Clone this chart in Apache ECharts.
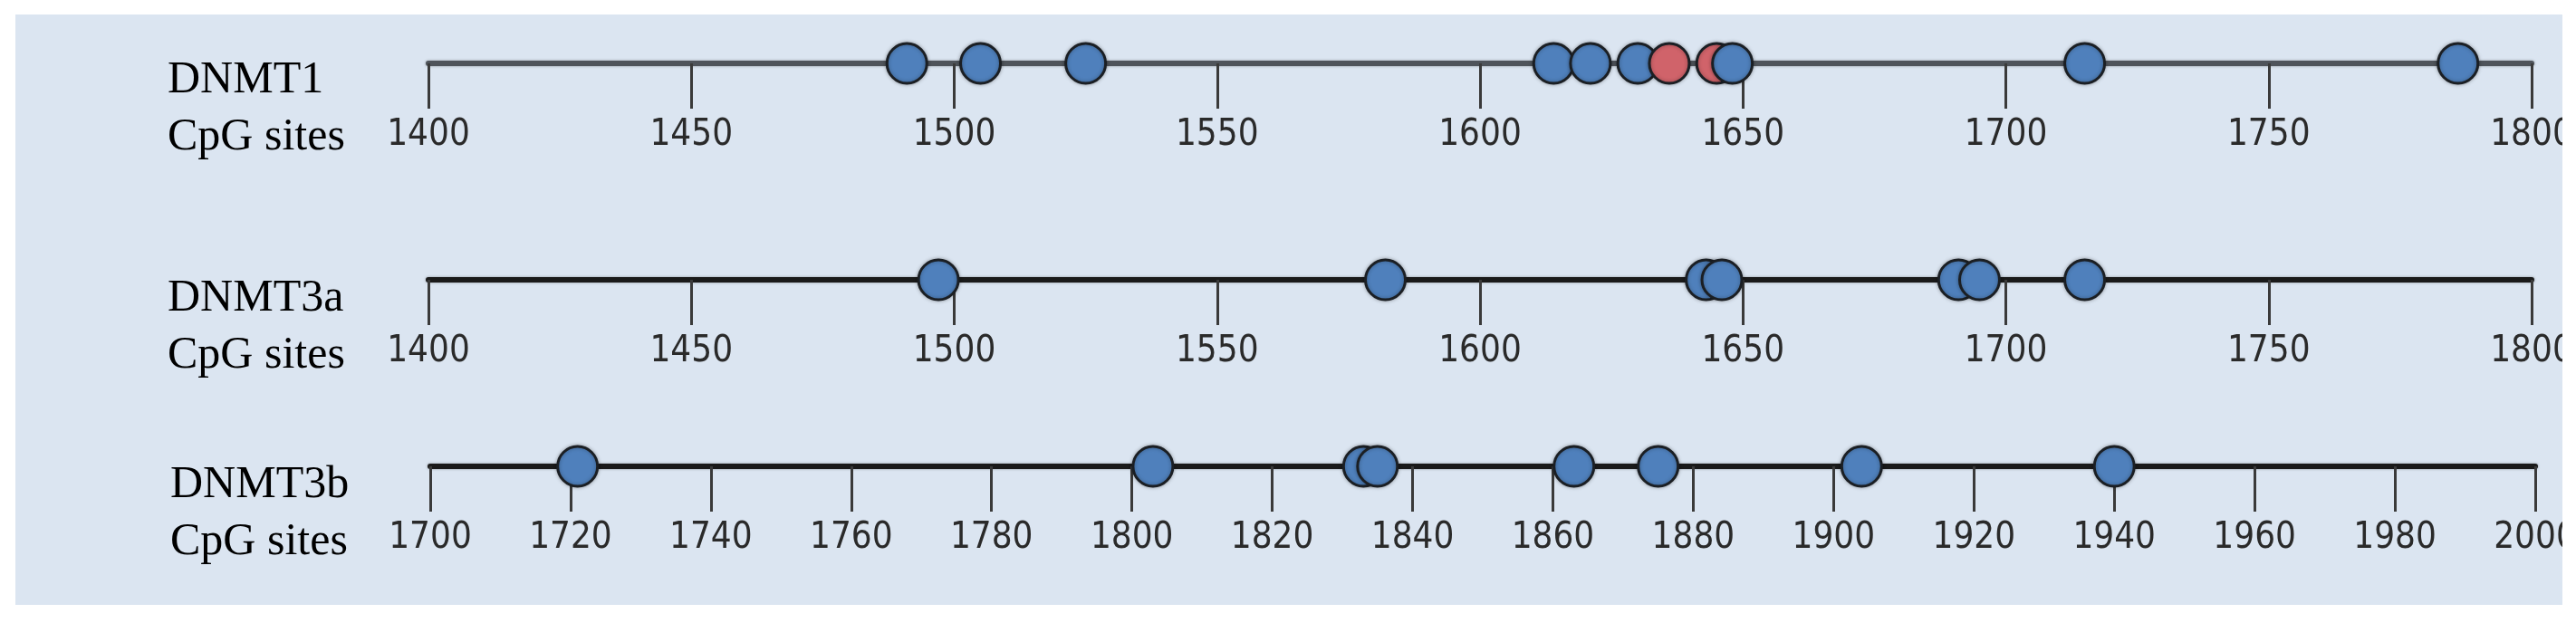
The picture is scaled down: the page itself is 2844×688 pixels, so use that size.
<!DOCTYPE html>
<html>
<head>
<meta charset="utf-8">
<script src="https://cdn.jsdelivr.net/npm/echarts/dist/echarts.min.js"></script>
<style>
  html, body { margin: 0; padding: 0; background: #fff; width: 2844px; height: 688px; overflow: hidden; }
  #mychart { position: absolute; left: 17px; top: 16px; width: 2812px; height: 652px; background: #dbe5f1; }
</style>
</head>
<body>
<div id="mychart"></div>
<script>
// 資料
const geneNames = ['DNMT1', 'DNMT3a', 'DNMT3b'];
const subLabel = 'CpG sites';
const axisMin = [1400, 1400, 1700];
const axisMax = [1800, 1800, 2000];
const axisStep = [50, 50, 20];

const dnmt1Sites = [1491, 1505, 1525, 1614, 1621, 1630, 1636, 1645, 1648, 1715, 1786];
const dnmt1Marked = [1636, 1645]; // red sites
const dnmt3aSites = [1497, 1582, 1643, 1646, 1691, 1695, 1715];
const dnmt3bSites = [1721, 1803, 1833, 1835, 1863, 1875, 1904, 1940];

const allSites = [dnmt1Sites, dnmt3aSites, dnmt3bSites];
const allMarked = [dnmt1Marked, [], []];

let myChart;
let colors = {
  blue: '#4f80bc',
  red: '#d0636a',
  border: '#1b1f24',
  axisLight: '#4f545b', // first row is greyer
  axisDark: '#1a1a1a',
  tick: '#3a3a3a',
  label: '#2a2a2a',
};

// 版面 (container coords)
let layout = [
  { left: 456, right: 34, lineY: 54, titleTop: 41, titleLeft: 168, axisColor: colors.axisLight },
  { left: 456, right: 34, lineY: 293, titleTop: 282, titleLeft: 168, axisColor: colors.axisDark },
  { left: 458, right: 30, lineY: 499, titleTop: 488, titleLeft: 171, axisColor: colors.axisDark },
];

function buildOption() {
  let option = {
    animation: false,
    title: [],
    grid: [],
    xAxis: [],
    yAxis: [],
    series: [],
  };
  layout.forEach((l, i) => {
    option.title.push({
      text: geneNames[i] + '\n' + subLabel,
      left: l.titleLeft,
      top: l.titleTop,
      padding: 0,
      textStyle: {
        fontFamily: "'Liberation Serif', 'Times New Roman', serif",
        fontWeight: 'normal',
        fontSize: 50,
        lineHeight: 63,
        color: '#000',
      },
    });
    option.grid.push({
      left: l.left,
      right: l.right,
      top: l.lineY - 40,
      height: 40,
      containLabel: false,
      outerBoundsMode: 'none', // 讓最右邊的標籤被裁掉
    });
    option.xAxis.push({
      gridIndex: i,
      type: 'value',
      position: 'bottom',
      min: axisMin[i],
      max: axisMax[i],
      interval: axisStep[i],
      splitLine: { show: false },
      axisLine: {
        show: true,
        onZero: false,
        lineStyle: {
          color: l.axisColor,
          width: 6,
          shadowColor: 'rgba(0, 0, 0, 0.35)',
          shadowBlur: 3,
        },
      },
      axisTick: {
        show: true,
        length: 50,
        lineStyle: { color: colors.tick, width: 3 },
      },
      axisLabel: {
        show: true,
        margin: 60,
        showMinLabel: true,
        showMaxLabel: true,
        color: colors.label,
        fontSize: 40,
        fontFamily: "'DejaVu Sans Condensed', 'Liberation Sans Narrow', sans-serif",
        formatter: (v) => String(v),
      },
    });
    option.yAxis.push({
      gridIndex: i,
      type: 'value',
      min: 0,
      max: 1,
      show: false,
    });
    // 依位置排序，後畫的蓋在前面
    let data = allSites[i]
      .slice()
      .sort((a, b) => a - b)
      .map((x) => ({
        value: [x, 0],
        itemStyle: {
          color: allMarked[i].indexOf(x) >= 0 ? colors.red : colors.blue,
        },
      }));
    option.series.push({
      type: 'scatter',
      xAxisIndex: i,
      yAxisIndex: i,
      clip: false,
      symbol: 'circle',
      symbolSize: 44,
      itemStyle: {
        borderColor: colors.border,
        borderWidth: 3,
        opacity: 1,
        shadowColor: 'rgba(0, 0, 0, 0.3)',
        shadowBlur: 4,
      },
      data: data,
    });
  });
  return option;
}

function initChart() {
  let chartDom = document.getElementById('mychart');
  myChart = echarts.init(chartDom);
  myChart.setOption(buildOption());
}

initChart();
</script>
</body>
</html>
